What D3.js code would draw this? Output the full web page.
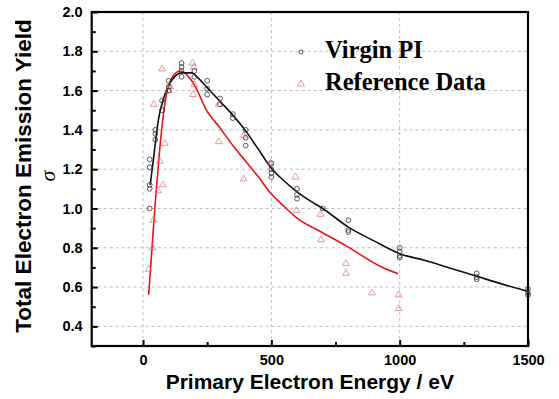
<!DOCTYPE html>
<html>
<head>
<meta charset="utf-8">
<script src="https://cdn.jsdelivr.net/npm/d3@7"></script>
<style>
  body { margin: 0; background: #fff; }
  svg { display: block; }
</style>
</head>
<body>
<script>
// data
var virginE = [26, 26, 26, 26, 26, 48, 48, 48, 74, 74, 100, 100, 100, 150, 150, 150, 150, 200, 200, 250, 250, 250, 300, 300, 350, 350, 400, 400, 400, 500, 500, 500, 500, 600, 600, 600, 700, 800, 800, 800, 1000, 1000, 1000, 1000, 1300, 1300, 1300, 1500, 1500, 1500];
var virginY = [1.00, 1.10, 1.12, 1.21, 1.25, 1.35, 1.38, 1.40, 1.50, 1.55, 1.60, 1.62, 1.65, 1.67, 1.70, 1.72, 1.74, 1.70, 1.67, 1.65, 1.61, 1.58, 1.56, 1.53, 1.48, 1.46, 1.40, 1.36, 1.32, 1.23, 1.20, 1.18, 1.16, 1.10, 1.07, 1.05, 1.00, 0.94, 0.89, 0.88, 0.80, 0.78, 0.76, 0.75, 0.67, 0.65, 0.64, 0.59, 0.57, 0.56];

var refE = [22, 40, 37, 58, 77, 66, 85, 42, 74, 100, 106, 193, 195, 198, 200, 295, 295, 392, 392, 496, 594, 598, 691, 694, 791, 791, 892, 996, 996];
var refY = [0.69, 0.94, 0.80, 1.09, 1.12, 1.24, 1.33, 1.53, 1.71, 1.60, 1.62, 1.74, 1.58, 1.72, 1.63, 1.53, 1.34, 1.37, 1.15, 1.23, 1.16, 0.99, 0.97, 0.84, 0.72, 0.67, 0.57, 0.56, 0.49];

var virginFitE = [28, 45, 61, 80, 100, 126, 150, 190, 210, 250, 300, 350, 400, 450, 500, 550, 600, 650, 700, 800, 900, 1000, 1100, 1200, 1300, 1400, 1500];
var virginFitY = [1.12, 1.30, 1.46, 1.56, 1.625, 1.675, 1.69, 1.69, 1.67, 1.615, 1.545, 1.475, 1.395, 1.30, 1.205, 1.14, 1.085, 1.04, 1.00, 0.905, 0.835, 0.77, 0.735, 0.695, 0.655, 0.615, 0.578];

var refFitE = [22, 35, 50, 65, 87, 110, 145, 184, 204, 243, 300, 350, 400, 450, 496, 550, 600, 691, 795, 925, 994];
var refFitY = [0.56, 0.80, 1.07, 1.30, 1.55, 1.66, 1.70, 1.66, 1.62, 1.51, 1.41, 1.32, 1.24, 1.16, 1.08, 1.01, 0.951, 0.883, 0.807, 0.705, 0.668];

var xMajor = [0, 500, 1000, 1500];
var xMinor = [250, 750, 1250];
var yMajor = [0.4, 0.6, 0.8, 1.0, 1.2, 1.4, 1.6, 1.8, 2.0];
var yMinor = [0.3, 0.5, 0.7, 0.9, 1.1, 1.3, 1.5, 1.7, 1.9];

var legendNames = ["Virgin PI", "Reference Data"];

//sizes
var cWidth = 559;
var cHeight = 399;
var pLeft = 91.7, pRight = 528, pTop = 12, pBottom = 346;

var x = d3.scaleLinear().domain([-200, 1500]).range([pLeft, pRight]);
var y = d3.scaleLinear().domain([0.3, 2.0]).range([pBottom, pTop]);

var svg = d3.select("body")
    .append("svg")
    .attr("width", cWidth)
    .attr("height", cHeight)
    .style("font-family", "Liberation Sans, Arial, sans-serif");

svg.append("rect")
    .attr("width", cWidth)
    .attr("height", cHeight)
    .attr("fill", "#fff");

// dotted grid
svg.append("g")
    .selectAll("line")
    .data(xMajor.filter(function (d) { return d < 1500; }))
    .enter()
    .append("line")
    .attr("x1", x).attr("x2", x)
    .attr("y1", pTop).attr("y2", pBottom)
    .attr("stroke", "#bdbdbd")
    .attr("stroke-dasharray", "3,3");

svg.append("g")
    .selectAll("line")
    .data(yMajor.filter(function (d) { return d < 2.0; }))
    .enter()
    .append("line")
    .attr("y1", y).attr("y2", y)
    .attr("x1", pLeft).attr("x2", pRight)
    .attr("stroke", "#bdbdbd")
    .attr("stroke-dasharray", "3,3");

// axes, ticks pointing inward
svg.append("g")
    .attr("transform", "translate(0," + pBottom + ")")
    .call(d3.axisBottom(x).tickValues(xMajor).tickSize(-6).tickPadding(9).tickFormat(d3.format("d")));
svg.append("g")
    .attr("transform", "translate(0," + pBottom + ")")
    .call(d3.axisBottom(x).tickValues(xMinor).tickSize(-4).tickFormat(""));

svg.append("g")
    .attr("transform", "translate(" + pLeft + ",0)")
    .call(d3.axisLeft(y).tickValues(yMajor).tickSize(-6).tickPadding(9).tickFormat(d3.format(".1f")));
svg.append("g")
    .attr("transform", "translate(" + pLeft + ",0)")
    .call(d3.axisLeft(y).tickValues(yMinor).tickSize(-4).tickFormat(""));

svg.selectAll(".domain").remove();
svg.selectAll(".tick line").attr("stroke", "#000").attr("stroke-width", 2);
svg.selectAll(".tick text")
    .attr("fill", "#000")
    .style("font-size", "14.5px")
    .style("font-weight", "bold")
    .style("font-family", "Liberation Sans, Arial, sans-serif");

// frame
svg.append("rect")
    .attr("x", pLeft).attr("y", pTop)
    .attr("width", pRight - pLeft)
    .attr("height", pBottom - pTop)
    .attr("fill", "none")
    .attr("stroke", "#000")
    .attr("stroke-width", 2.2);

// fit lines
var line = d3.line()
    .x(function (d) { return x(d[0]); })
    .y(function (d) { return y(d[1]); })
    .curve(d3.curveMonotoneX);

svg.append("path")
    .datum(d3.zip(refFitE, refFitY))
    .attr("d", line)
    .attr("fill", "none")
    .attr("stroke", "#e8141b")
    .attr("stroke-width", 1.6);

svg.append("path")
    .datum(d3.zip(virginFitE, virginFitY))
    .attr("d", line)
    .attr("fill", "none")
    .attr("stroke", "#111")
    .attr("stroke-width", 1.6);

// markers
var tri = d3.symbol().type(d3.symbolTriangle).size(20);

svg.append("g")
    .selectAll("path")
    .data(d3.zip(refE, refY))
    .enter()
    .append("path")
    .attr("d", tri)
    .attr("transform", function (d) { return "translate(" + x(d[0]) + "," + y(d[1]) + ")"; })
    .attr("fill", "none")
    .attr("stroke", "#ec7c7c")
    .attr("stroke-width", 0.8);

svg.append("g")
    .selectAll("circle")
    .data(d3.zip(virginE, virginY))
    .enter()
    .append("circle")
    .attr("cx", function (d) { return x(d[0]); })
    .attr("cy", function (d) { return y(d[1]); })
    .attr("r", 2.4)
    .attr("fill", "none")
    .attr("stroke", "#333")
    .attr("stroke-width", 0.8);

// legend
svg.append("circle")
    .attr("cx", 301).attr("cy", 52).attr("r", 2)
    .attr("fill", "none").attr("stroke", "#333").attr("stroke-width", 0.8);
svg.append("path")
    .attr("d", tri)
    .attr("transform", "translate(301,84)")
    .attr("fill", "none").attr("stroke", "#ec7c7c").attr("stroke-width", 0.8);

svg.selectAll(".legend")
    .data(legendNames)
    .enter()
    .append("text")
    .attr("class", "legend")
    .attr("x", 325)
    .attr("y", function (d, i) { return 58 + i * 32; })
    .style("font-family", "Liberation Serif, Times New Roman, serif")
    .style("font-weight", "bold")
    .style("font-size", "24.5px")
    .text(function (d) { return d; });

// axis titles
svg.append("text")
    .attr("x", (pLeft + pRight) / 2)
    .attr("y", 389)
    .attr("text-anchor", "middle")
    .style("font-weight", "bold")
    .style("font-size", "21px")
    .text("Primary Electron Energy / eV");

svg.append("text")
    .attr("transform", "translate(31,176) rotate(-90)")
    .attr("text-anchor", "middle")
    .style("font-weight", "bold")
    .style("font-size", "22.5px")
    .text("Total Electron Emission Yield");

svg.append("text")
    .attr("transform", "translate(55,176) rotate(-90)")
    .attr("text-anchor", "middle")
    .style("font-family", "Liberation Serif, Times New Roman, serif")
    .style("font-style", "italic")
    .style("font-size", "22px")
    .text("σ");
</script>
</body>
</html>
